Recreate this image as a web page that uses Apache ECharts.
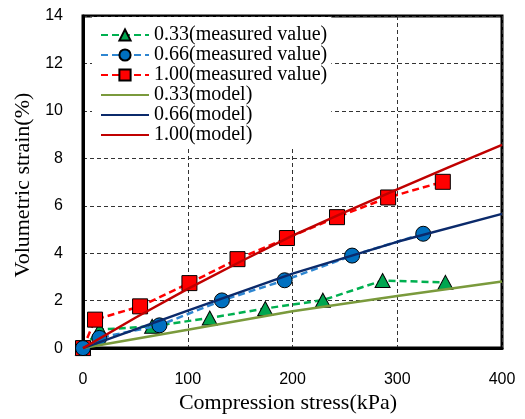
<!DOCTYPE html>
<html>
<head>
<meta charset="utf-8">
<script src="https://cdn.jsdelivr.net/npm/echarts@6/dist/echarts.min.js"></script>
<style>html,body{margin:0;padding:0;background:#fff;}#c{width:525px;height:419px;}</style>
</head>
<body>
<div id="c"></div>
<script>
const xTicks = [0, 100, 200, 300, 400];
const yTicks = [0, 2, 4, 6, 8, 10, 12, 14];

const names = ['0.33(measured value)', '0.66(measured value)', '1.00(measured value)',
               '0.33(model)', '0.66(model)', '1.00(model)'];

const measured033 = [[0, 0], [16, 0.78], [66, 0.92], [121, 1.27], [174, 1.67], [229, 2.02], [286, 2.85], [346, 2.77]];
const measured066 = [[0, 0], [15.6, 0.43], [73, 0.96], [132.6, 2.01], [192.5, 2.86], [256.9, 3.9], [324.8, 4.82]];
const measured100 = [[0, 0], [11.5, 1.2], [54.5, 1.76], [101.6, 2.74], [147.5, 3.75], [194.7, 4.64], [242.5, 5.52], [291.3, 6.35], [343.5, 7.01]];

const model033 = [[0, 0], [100, 0.77], [200, 1.55], [300, 2.2], [400, 2.81]];
const model066 = [[0, 0], [100, 1.58], [200, 3.14], [300, 4.48], [400, 5.66]];
const model100 = [[0, 0], [50, 1.28], [100, 2.5], [150, 3.64], [200, 4.74], [250, 5.73], [300, 6.69], [350, 7.64], [400, 8.57]];

const serif = 'Liberation Serif, Times New Roman, serif';
const sans = 'Liberation Sans, Arial, sans-serif';

function measuredSeries(name, data, color, lineColor, symbol, size, z) {
  return {
    name, type: 'line', data, symbol, symbolSize: size, clip: false, z,
    lineStyle: { color: lineColor, width: 2.5, type: [7, 4] },
    itemStyle: { color: color, borderColor: '#000', borderWidth: 1 }
  };
}
function modelSeries(name, data, color) {
  return {
    name, type: 'line', data, symbol: 'none', clip: false, z: 4,
    lineStyle: { color: color, width: 2.5, type: 'solid' },
    itemStyle: { color: color }
  };
}

const legendData = names.map((n, i) => i < 3 ? { name: n } : { name: n, itemStyle: { opacity: 0 } });

const chart = echarts.init(document.getElementById('c'), null, { renderer: 'canvas' });
chart.setOption({
  animation: false,
  backgroundColor: '#fff',
  grid: { left: 83, right: 23, top: 16, bottom: 70.5, show: true, borderColor: '#000', borderWidth: 3, backgroundColor: 'transparent' },
  legend: {
    data: legendData,
    orient: 'vertical',
    left: 92, top: 17,
    padding: [8, 4, 2, 8],
    itemGap: 0,
    itemWidth: 48, itemHeight: 14,
    backgroundColor: '#fff',
    z: 10,
    textStyle: { fontFamily: serif, fontSize: 20, color: '#000', lineHeight: 20 }
  },
  xAxis: {
    type: 'value', min: xTicks[0], max: xTicks[xTicks.length - 1], interval: 100,
    name: 'Compression stress(kPa)', nameLocation: 'middle', nameGap: 38,
    nameTextStyle: { fontFamily: serif, fontSize: 22, color: '#000', padding: [0, 9, 0, 0] },
    axisLine: { show: true, lineStyle: { color: '#000', width: 3 } },
    axisTick: { show: false },
    axisLabel: { fontFamily: sans, fontSize: 16, color: '#000', margin: 23 },
    splitLine: { show: true, lineStyle: { color: '#333', width: 1, type: [4, 3] } }
  },
  yAxis: {
    type: 'value', min: yTicks[0], max: yTicks[yTicks.length - 1], interval: 2,
    name: 'Volumetric strain(%)', nameLocation: 'middle', nameGap: 49,
    nameTextStyle: { fontFamily: serif, fontSize: 22, color: '#000', padding: [0, 6, 0, 0] },
    axisLine: { show: true, lineStyle: { color: '#000', width: 3 } },
    axisTick: { show: false },
    axisLabel: { fontFamily: sans, fontSize: 16, color: '#000', margin: 20 },
    splitLine: { show: true, lineStyle: { color: '#333', width: 1, type: [4, 3] } }
  },
  series: [
    measuredSeries(names[0], measured033, '#00A650', '#00B050', 'triangle', [15, 14], 2),
    measuredSeries(names[1], measured066, '#0070C0', '#2E86D1', 'circle', 15, 3),
    measuredSeries(names[2], measured100, '#FF0000', '#FF0000', 'rect', 15, 2),
    modelSeries(names[3], model033, '#7A9A3C'),
    modelSeries(names[4], model066, '#0B2A6B'),
    modelSeries(names[5], model100, '#C00000')
  ]
});
</script>
</body>
</html>
